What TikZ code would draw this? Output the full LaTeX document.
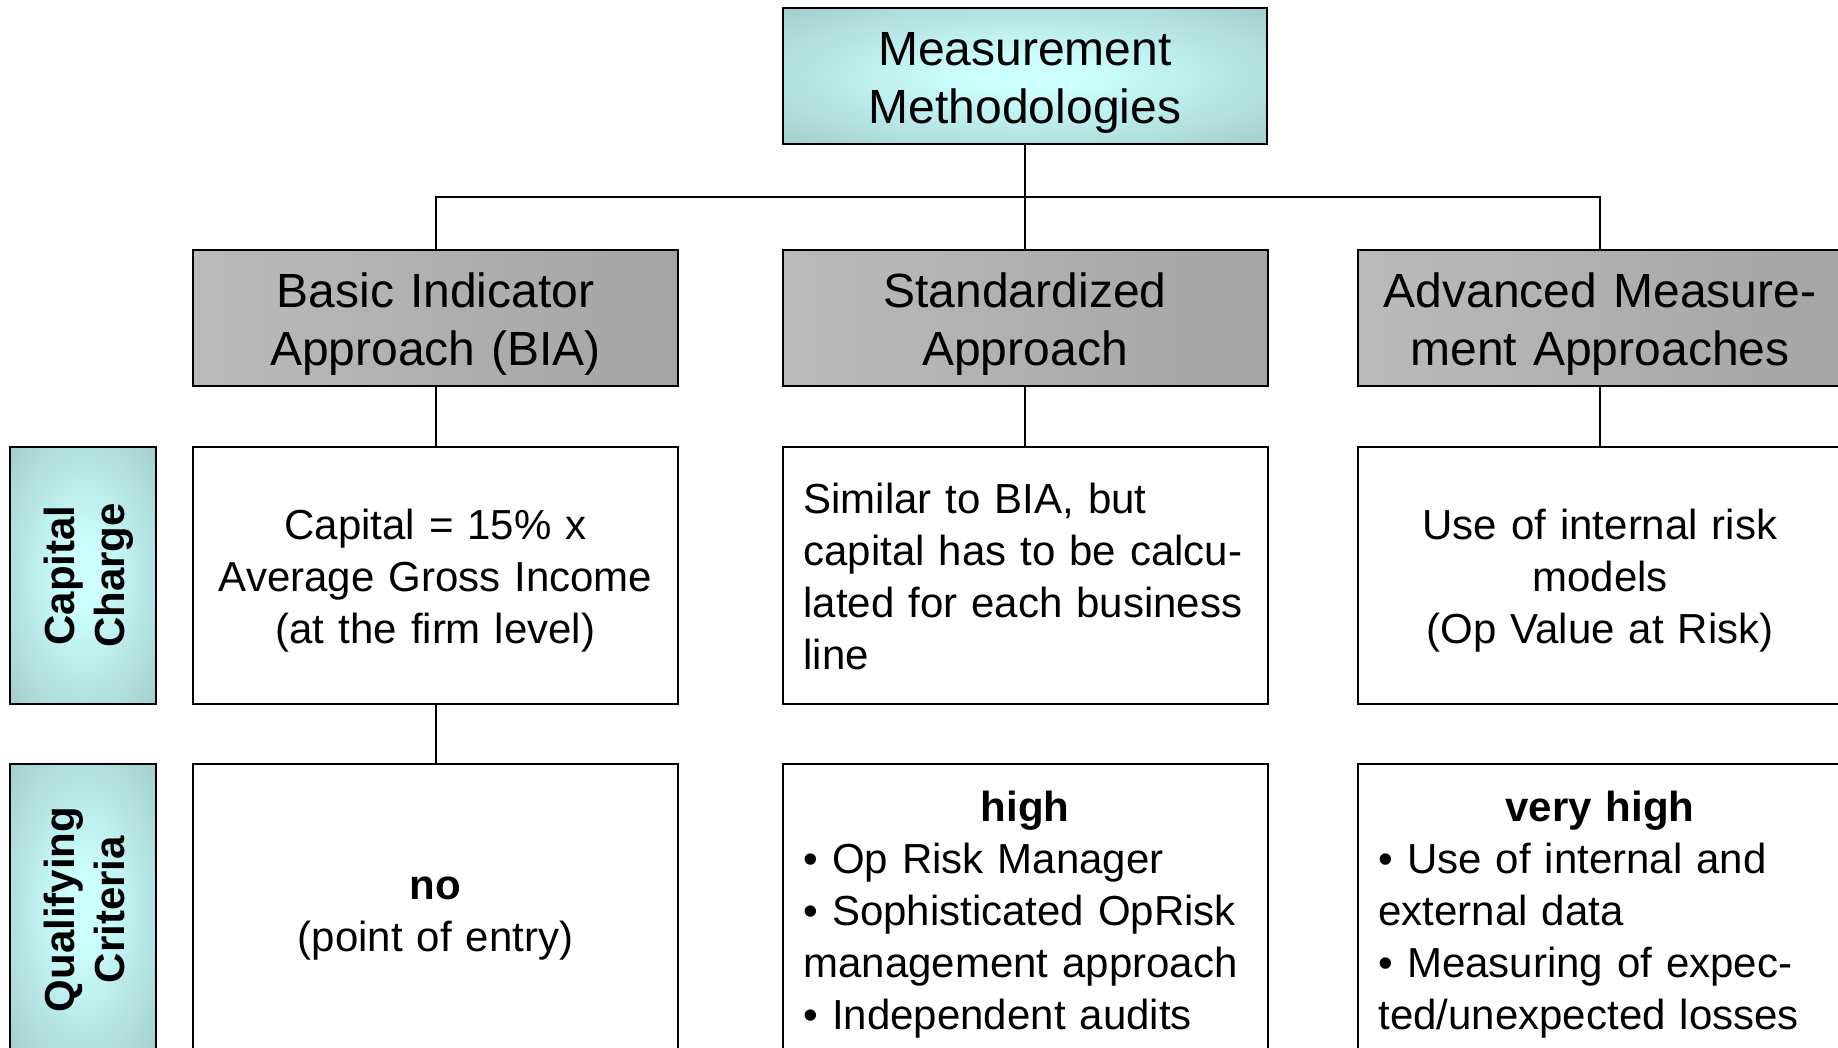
\documentclass[tikz,border=0pt]{standalone}
\usepackage{fontspec}
\setmainfont{Liberation Sans}

\definecolor{glowin}{HTML}{CCFFFF}
\definecolor{glowout}{HTML}{99C0C0}
\definecolor{rampleft}{HTML}{C6C6C6}
\definecolor{rampright}{HTML}{999999}
\pgfdeclareradialshading{glow}{\pgfpoint{0bp}{0bp}}{color(0bp)=(glowin); color(6bp)=(glowin); color(44bp)=(glowout); color(50bp)=(glowout)}
\pgfdeclarehorizontalshading{ramp}{100bp}{color(0bp)=(rampleft); color(100bp)=(rampright)}

\begin{document}
\begin{tikzpicture}[x=0.5pt, y=-0.5pt,
	lowered/.style={inner ysep=0pt, execute at begin node={\rule{0pt}{1em}}, execute at end node={\rule[-0.22em]{0pt}{0.22em}}},
	head/.style={draw, line width=1pt, shade, shading=glow, minimum width=242pt, minimum height=68pt, text width=242pt, inner xsep=0pt, lowered, align=center, font=\fontsize{24}{29}\selectfont},
	approach/.style={head, shading=ramp, minimum width=242.5pt},
	detail/.style={draw, line width=1pt, fill=white, text width=221.5pt, inner xsep=10.5pt, minimum height=128.5pt, lowered, align=center, font=\fontsize{21}{26}\selectfont},
	criteria/.style={detail, minimum height=145.5pt},
	rowlabel/.style={draw, line width=1pt, shade, shading=glow, rotate=90, minimum height=72.75pt, text width=120pt, inner xsep=0pt, lowered, align=center, font=\bfseries\fontsize{21}{25}\selectfont},
	link/.style={line width=1pt}]
			%%%%% START %%%%%
			
			\path[use as bounding box] (0,0) rectangle (1838,1048);
			\clip (0,0) rectangle (1838,1048);
			
			\node[head] (root) at (1025, 76) {Measurement\\Methodologies};
			
			\node[approach] (bia) at (435.5, 318) {Basic Indicator\\Approach (BIA)};
			\node[approach] (std) at (1025, 318) {Standardized\\Approach};
			\node[approach] (ama) at (1600, 318) {Advanced Measure-\\ment Approaches};
			
			\node[rowlabel, minimum width=128.5pt] (caplabel) at (83, 575.5) {Capital\\Charge};
			\node[detail] (biacap) at (435.5, 575.5) {Capital = 15\% x\\Average Gross Income\\(at the firm level)};
			\node[detail, align=left] (stdcap) at (1025, 575.5) {Similar to BIA, but\\capital has to be calcu-\\lated for each business\\line};
			\node[detail] (amacap) at (1600, 575.5) {Use of internal risk\\models\\(Op Value at Risk)};
			
			\node[rowlabel, minimum width=145.5pt] (quallabel) at (83, 909.5) {Qualifying\\Criteria};
			\node[criteria] (biaqual) at (435.5, 909.5) {\textbf{no}\\(point of entry)};
			\node[criteria, align=left] (stdqual) at (1025, 909.5) {\makebox[\hsize]{\bfseries high}\\• Op Risk Manager\\• Sophisticated OpRisk\\management approach\\• Independent audits};
			\node[criteria, align=left] (amaqual) at (1600, 909.5) {\makebox[\hsize]{\bfseries very high}\\• Use of internal and\\external data\\• Measuring of expec-\\ted/unexpected losses};
			
			% tree lines
			\coordinate (bus) at (0, 197);
			\draw[link] (root.south) -- (std.north);
			\draw[link] (bia.north) -- (bia.north |- bus) -- (ama.north |- bus) -- (ama.north);
			\draw[link] (bia.south) -- (biacap.north);
			\draw[link] (std.south) -- (stdcap.north);
			\draw[link] (ama.south) -- (amacap.north);
			\draw[link] (biacap.south) -- (biaqual.north);
			
			%%%%% END %%%%%
\end{tikzpicture}
\end{document}
